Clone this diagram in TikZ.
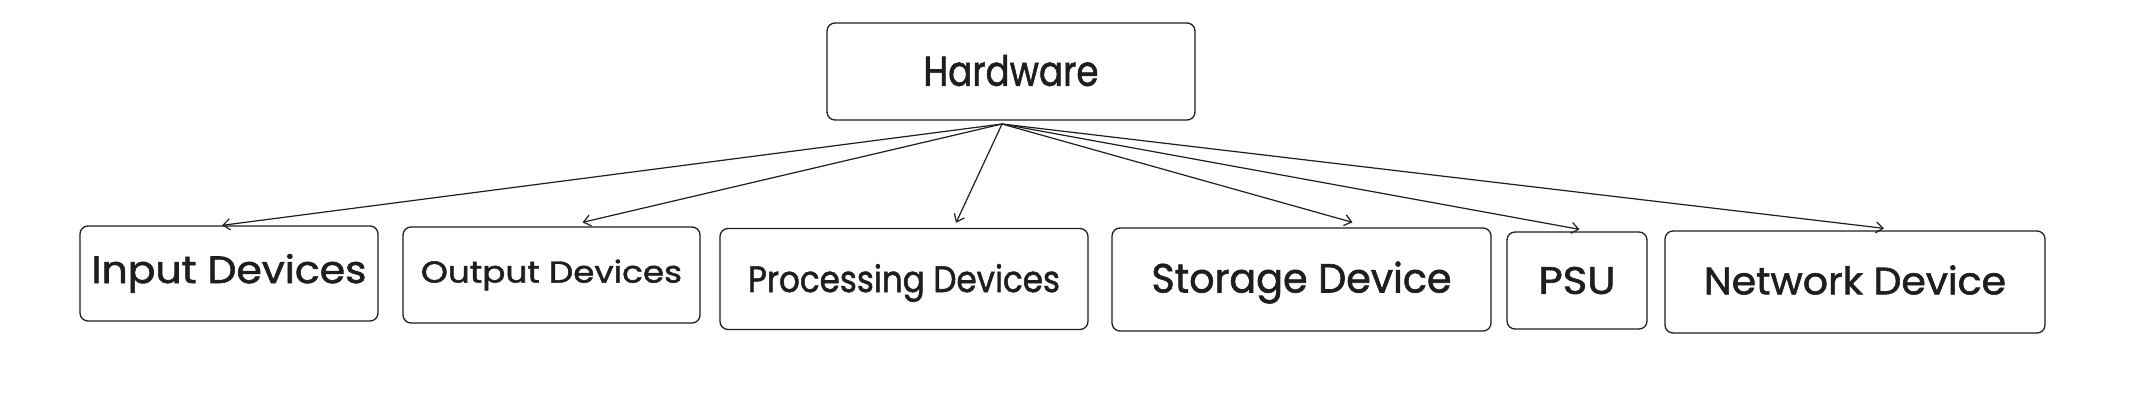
\documentclass[tikz,border=0pt]{standalone}
\usepackage{fontspec}
\setmainfont{Poppins}[FakeBold=1.5]
\usetikzlibrary{arrows.meta}
\definecolor{ink}{HTML}{1E1E1E}
\newcommand{\fitt}[4]{\raisebox{#4pt}[\height][\depth]{\resizebox{#1pt}{#2pt}{#3}}}
\begin{document}
\begin{tikzpicture}[x=1pt,y=-1pt,
  box/.style={draw=ink, line width=1.3pt, rounded corners=8pt, inner sep=0pt, text=ink},
  arr/.style={draw=ink, line width=1.2pt, -{Straight Barb[length=7pt,width=11pt]}}]
\fill[white] (0,0) rectangle (2148,400);
\useasboundingbox (0,0) rectangle (2148,400);
\node[box, minimum width=368pt, minimum height=97pt] (hw) at (1011,71.5) {\fitt{175}{31}{Hardware}{1}};
\node[box, minimum width=298pt, minimum height=95pt] (in) at (229,273.5) {\fitt{275}{29}{Input Devices}{0}};
\node[box, minimum width=297pt, minimum height=96pt] (out) at (551.5,275) {\fitt{261}{23}{Output Devices}{0}};
\node[box, minimum width=368pt, minimum height=101pt] (proc) at (904,279) {\fitt{312}{28}{Processing Devices}{-4}};
\node[box, minimum width=379pt, minimum height=103pt] (stor) at (1301.5,279.5) {\fitt{300}{31}{Storage Device}{-3}};
\node[box, minimum width=140pt, minimum height=97pt] (psu) at (1577,280.5) {\fitt{77}{27}{PSU}{0}};
\node[box, minimum width=380pt, minimum height=102pt] (net) at (1855,282) {\fitt{302}{29}{Network Device}{2}};
\coordinate (src) at (1002,124);
\draw[arr] (src) -- ([xshift=-7pt]in.north);
\draw[arr] (src) -- ([xshift=31pt,yshift=4pt]out.north);
\draw[arr] (src) -- ([xshift=52pt,yshift=5pt]proc.north);
\draw[arr] (src) -- ([xshift=51pt,yshift=5pt]stor.north);
\draw[arr] (src) -- ([xshift=2.5pt,yshift=2pt]psu.north);
\draw[arr] (src) -- ([xshift=29pt,yshift=2pt]net.north);
\end{tikzpicture}
\end{document}
